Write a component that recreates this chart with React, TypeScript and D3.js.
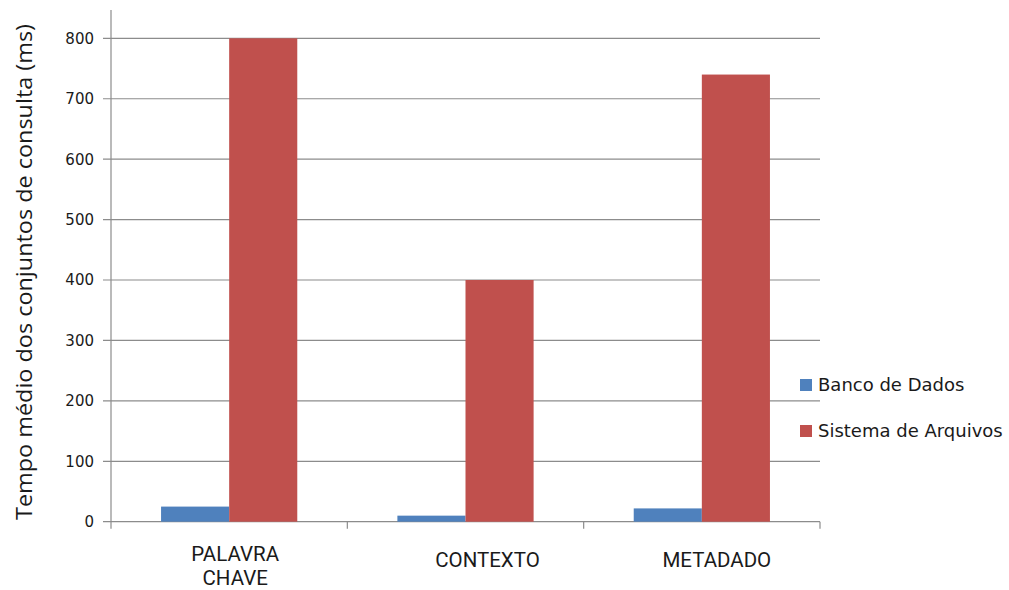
import React from "react";
import * as d3 from "d3";

const categories = [["PALAVRA", "CHAVE"], ["CONTEXTO"], ["METADADO"]];
const seriesNames = ["Banco de Dados", "Sistema de Arquivos"];
const bancoValues = [25, 10, 22];
const sistemaValues = [800, 400, 740];
const yTicks = [0, 100, 200, 300, 400, 500, 600, 700, 800];
const labelShift = [6, 22, 15];
const colors = ["#4F81BD", "#C0504D"];

export default function App() {
  const W = 1009, H = 590;
  const left = 111, right = 820, top = 10, zeroY = 521.7;
  const x = d3.scaleBand<number>().domain([0, 1, 2]).range([left, right]).paddingInner(0).paddingOuter(0);
  const inner = d3.scaleBand<number>().domain([0, 1]).range([0, x.bandwidth()]).paddingOuter(0.735).paddingInner(0);
  const y = d3.scaleLinear().domain([0, 800]).range([zeroY, 38.3]);
  const series = [bancoValues, sistemaValues];
  const boundaries = [0, 1, 2, 3].map(i => left + i * x.bandwidth());
  return (
    <svg width={W} height={H} style={{ position: "absolute", left: 0, top: 0, background: "#fff" }}>
      {yTicks.map(t => (
        <g key={t}>
          <line x1={left - 8} x2={right} y1={y(t)} y2={y(t)} stroke="#8c8c8c" strokeWidth={1.2} />
          <text x={94} y={y(t)} dy="0.36em" textAnchor="end" fontFamily="DejaVu Sans" fontSize={15} fill="#1a1a1a">{t}</text>
        </g>
      ))}
      <line x1={left} x2={left} y1={top} y2={zeroY} stroke="#8c8c8c" strokeWidth={1.2} />
      {boundaries.map((b, i) => (
        <line key={i} x1={b} x2={b} y1={zeroY} y2={zeroY + 7} stroke="#8c8c8c" strokeWidth={1.2} />
      ))}
      {series.map((vals, s) =>
        vals.map((v, i) => (
          <rect key={s + "-" + i} x={x(i)! + inner(s)!} width={inner.bandwidth()} y={y(v)} height={zeroY - y(v)} fill={colors[s]} />
        ))
      )}
      {categories.map((lines, i) => (
        <text key={i} y={lines.length > 1 ? 560.5 : 567} textAnchor="middle" fontFamily="Roboto" fontSize={20.5} fill="#1a1a1a">
          {lines.map((l, j) => (
            <tspan key={j} x={x(i)! + x.bandwidth() / 2 + labelShift[i]} dy={j === 0 ? 0 : 24.5}>{l}</tspan>
          ))}
        </text>
      ))}
      <text transform={`translate(32,272) rotate(-90)`} textAnchor="middle" fontFamily="Open Sans" fontSize={21} textLength={496} lengthAdjust="spacingAndGlyphs" fill="#1a1a1a">Tempo médio dos conjuntos de consulta (ms)</text>
      {seriesNames.map((n, i) => (
        <g key={n}>
          <rect x={800} y={379 + i * 46} width={12} height={12} fill={colors[i]} />
          <text x={818} y={385 + i * 46} dy="0.36em" fontFamily="DejaVu Sans" fontSize={18} fill="#1a1a1a">{n}</text>
        </g>
      ))}
    </svg>
  );
}
